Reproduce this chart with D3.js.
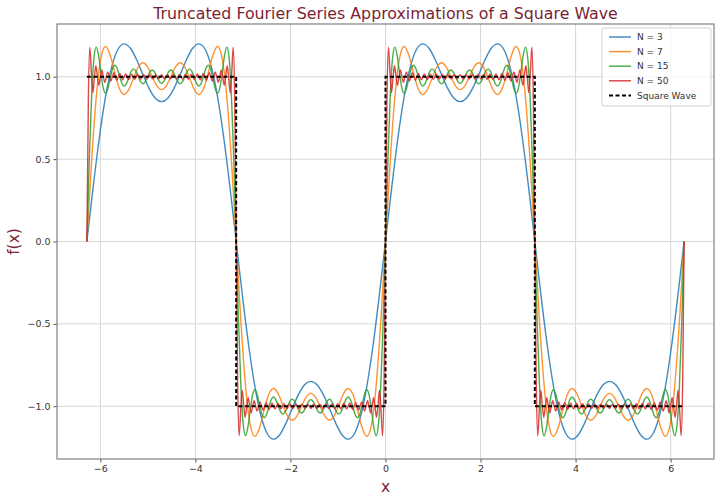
<!DOCTYPE html>
<html>
<head>
<meta charset="utf-8">
<script src="https://cdn.jsdelivr.net/npm/d3@7"></script>
<style>
  body { margin: 0; background: #fff; }
  text { font-family: "DejaVu Sans", sans-serif; }
</style>
</head>
<body>
<div id="chart"></div>
<script>
// sampled values of each truncated series, evenly spaced over [-2pi, 2pi]
const xMin = -2 * Math.PI, xMax = 2 * Math.PI;

const seriesNames = ["N = 3", "N = 7", "N = 15", "N = 50"];
const seriesColors = ["#1f77b4", "#ff7f0e", "#2ca02c", "#d62728"];

const n3 = [
  0,0.329,0.63,0.879,1.061,1.167,1.2,1.173,1.103,1.014,0.93,0.87,0.849,0.87,0.93,1.014,1.103,1.173,1.2,1.167,1.061,0.879,0.63,0.329,0,
  -0.329,-0.63,-0.879,-1.061,-1.167,-1.2,-1.173,-1.103,-1.014,-0.93,-0.87,-0.849,-0.87,-0.93,-1.014,-1.103,-1.173,-1.2,-1.167,-1.061,-0.879,-0.63,-0.329,0,
  0.329,0.63,0.879,1.061,1.167,1.2,1.173,1.103,1.014,0.93,0.87,0.849,0.87,0.93,1.014,1.103,1.173,1.2,1.167,1.061,0.879,0.63,0.329,0,
  -0.329,-0.63,-0.879,-1.061,-1.167,-1.2,-1.173,-1.103,-1.014,-0.93,-0.87,-0.849,-0.87,-0.93,-1.014,-1.103,-1.173,-1.2,-1.167,-1.061,-0.879,-0.63,-0.329,0
];

const n7 = [
  0,0.483,0.874,1.112,1.184,1.131,1.022,0.927,0.892,0.923,0.993,1.059,1.085,1.06,1.002,0.945,0.922,0.945,1.002,1.06,1.085,1.059,0.993,0.923,0.892,0.927,1.022,1.131,1.184,1.112,0.874,0.483,0,
  -0.483,-0.874,-1.112,-1.184,-1.131,-1.022,-0.927,-0.892,-0.923,-0.993,-1.059,-1.085,-1.06,-1.002,-0.945,-0.922,-0.945,-1.002,-1.06,-1.085,-1.059,-0.993,-0.923,-0.892,-0.927,-1.022,-1.131,-1.184,-1.112,-0.874,-0.483,0,
  0.483,0.874,1.112,1.184,1.131,1.022,0.927,0.892,0.923,0.993,1.059,1.085,1.06,1.002,0.945,0.922,0.945,1.002,1.06,1.085,1.059,0.993,0.923,0.892,0.927,1.022,1.131,1.184,1.112,0.874,0.483,0,
  -0.483,-0.874,-1.112,-1.184,-1.131,-1.022,-0.927,-0.892,-0.923,-0.993,-1.059,-1.085,-1.06,-1.002,-0.945,-0.922,-0.945,-1.002,-1.06,-1.085,-1.059,-0.993,-0.923,-0.892,-0.927,-1.022,-1.131,-1.184,-1.112,-0.874,-0.483,0
];

const n15 = [
  0,0.483,0.873,1.109,1.18,1.129,1.024,0.933,0.9,0.928,0.991,1.048,1.07,1.05,1.005,0.961,0.944,0.96,0.997,1.033,1.048,1.034,1.002,0.97,0.957,0.969,0.999,1.029,1.041,1.029,1,0.972,0.96,
  0.972,1,1.029,1.041,1.029,0.999,0.969,0.957,0.97,1.002,1.034,1.048,1.033,0.997,0.96,0.944,0.961,1.005,1.05,1.07,1.048,0.991,0.928,0.9,0.933,1.024,1.129,1.18,1.109,0.873,0.483,0,
  -0.483,-0.873,-1.109,-1.18,-1.129,-1.024,-0.933,-0.9,-0.928,-0.991,-1.048,-1.07,-1.05,-1.005,-0.961,-0.944,-0.96,-0.997,-1.033,-1.048,-1.034,-1.002,-0.97,-0.957,-0.969,-0.999,-1.029,-1.041,-1.029,-1,-0.972,-0.96,
  -0.972,-1,-1.029,-1.041,-1.029,-0.999,-0.969,-0.957,-0.97,-1.002,-1.034,-1.048,-1.033,-0.997,-0.96,-0.944,-0.961,-1.005,-1.05,-1.07,-1.048,-0.991,-0.928,-0.9,-0.933,-1.024,-1.129,-1.18,-1.109,-0.873,-0.483,0,
  0.483,0.873,1.109,1.18,1.129,1.024,0.933,0.9,0.928,0.991,1.048,1.07,1.05,1.005,0.961,0.944,0.96,0.997,1.033,1.048,1.034,1.002,0.97,0.957,0.969,0.999,1.029,1.041,1.029,1,0.972,0.96,
  0.972,1,1.029,1.041,1.029,0.999,0.969,0.957,0.97,1.002,1.034,1.048,1.033,0.997,0.96,0.944,0.961,1.005,1.05,1.07,1.048,0.991,0.928,0.9,0.933,1.024,1.129,1.18,1.109,0.873,0.483,0,
  -0.483,-0.873,-1.109,-1.18,-1.129,-1.024,-0.933,-0.9,-0.928,-0.991,-1.048,-1.07,-1.05,-1.005,-0.961,-0.944,-0.96,-0.997,-1.033,-1.048,-1.034,-1.002,-0.97,-0.957,-0.969,-0.999,-1.029,-1.041,-1.029,-1,-0.972,-0.96,
  -0.972,-1,-1.029,-1.041,-1.029,-0.999,-0.969,-0.957,-0.97,-1.002,-1.034,-1.048,-1.033,-0.997,-0.96,-0.944,-0.961,-1.005,-1.05,-1.07,-1.048,-0.991,-0.928,-0.9,-0.933,-1.024,-1.129,-1.18,-1.109,-0.873,-0.483,0
];

const n50 = [
  0,0.873,1.179,1.024,0.903,0.991,1.067,1.005,0.949,0.997,1.041,1.002,0.966,0.999,1.03,1.001,0.974,0.999,1.024,1.001,0.978,0.999,1.02,1,0.981,1,1.017,1,0.983,1,1.016,1,0.985,1,1.015,1,0.986,1,1.014,1,0.987,1,1.013,1,0.987,1,1.013,1,0.987,1,1.013,
  1,0.987,1,1.013,1,0.987,1,1.013,1,0.987,1,1.014,1,0.986,1,1.015,1,0.985,1,1.016,1,0.983,1,1.017,1,0.981,1,1.02,0.999,0.978,1.001,1.024,0.999,0.974,1.001,1.03,0.999,0.966,1.002,1.041,0.997,0.949,1.005,1.067,0.991,0.903,1.024,1.179,0.873,0,
  -0.873,-1.179,-1.024,-0.903,-0.991,-1.067,-1.005,-0.949,-0.997,-1.041,-1.002,-0.966,-0.999,-1.03,-1.001,-0.974,-0.999,-1.024,-1.001,-0.978,-0.999,-1.02,-1,-0.981,-1,-1.017,-1,-0.983,-1,-1.016,-1,-0.985,-1,-1.015,-1,-0.986,-1,-1.014,-1,-0.987,-1,-1.013,-1,-0.987,-1,-1.013,-1,-0.987,-1,-1.013,
  -1,-0.987,-1,-1.013,-1,-0.987,-1,-1.013,-1,-0.987,-1,-1.014,-1,-0.986,-1,-1.015,-1,-0.985,-1,-1.016,-1,-0.983,-1,-1.017,-1,-0.981,-1,-1.02,-0.999,-0.978,-1.001,-1.024,-0.999,-0.974,-1.001,-1.03,-0.999,-0.966,-1.002,-1.041,-0.997,-0.949,-1.005,-1.067,-0.991,-0.903,-1.024,-1.179,-0.873,0,
  0.873,1.179,1.024,0.903,0.991,1.067,1.005,0.949,0.997,1.041,1.002,0.966,0.999,1.03,1.001,0.974,0.999,1.024,1.001,0.978,0.999,1.02,1,0.981,1,1.017,1,0.983,1,1.016,1,0.985,1,1.015,1,0.986,1,1.014,1,0.987,1,1.013,1,0.987,1,1.013,1,0.987,1,1.013,
  1,0.987,1,1.013,1,0.987,1,1.013,1,0.987,1,1.014,1,0.986,1,1.015,1,0.985,1,1.016,1,0.983,1,1.017,1,0.981,1,1.02,0.999,0.978,1.001,1.024,0.999,0.974,1.001,1.03,0.999,0.966,1.002,1.041,0.997,0.949,1.005,1.067,0.991,0.903,1.024,1.179,0.873,0,
  -0.873,-1.179,-1.024,-0.903,-0.991,-1.067,-1.005,-0.949,-0.997,-1.041,-1.002,-0.966,-0.999,-1.03,-1.001,-0.974,-0.999,-1.024,-1.001,-0.978,-0.999,-1.02,-1,-0.981,-1,-1.017,-1,-0.983,-1,-1.016,-1,-0.985,-1,-1.015,-1,-0.986,-1,-1.014,-1,-0.987,-1,-1.013,-1,-0.987,-1,-1.013,-1,-0.987,-1,-1.013,
  -1,-0.987,-1,-1.013,-1,-0.987,-1,-1.013,-1,-0.987,-1,-1.014,-1,-0.986,-1,-1.015,-1,-0.985,-1,-1.016,-1,-0.983,-1,-1.017,-1,-0.981,-1,-1.02,-0.999,-0.978,-1.001,-1.024,-0.999,-0.974,-1.001,-1.03,-0.999,-0.966,-1.002,-1.041,-0.997,-0.949,-1.005,-1.067,-0.991,-0.903,-1.024,-1.179,-0.873,0
];

// square wave corners
const squareX = [-6.283, -3.142, -3.142, 0, 0, 3.142, 3.142, 6.283];
const squareY = [1, 1, -1, -1, 1, 1, -1, -1];

const xTicks = [-6, -4, -2, 0, 2, 4, 6];
const yTicks = [-1, -0.5, 0, 0.5, 1];

const width = 720, height = 501;
const margin = {top: 24, right: 6, bottom: 42, left: 57};
const titleColor = "#7b1f33";

let svg = d3.select("#chart").append("svg").attr("width", width).attr("height", height);
svg.append("rect").attr("width", width).attr("height", height).attr("fill", "#fff");

var x = d3.scaleLinear()
    .domain([-6.912, 6.912])
    .range([margin.left, width - margin.right]);
var y = d3.scaleLinear()
    .domain([-1.3204, 1.3204])
    .range([height - margin.bottom, margin.top]);

// grid
svg.append("g").selectAll("line").data(xTicks).enter().append("line")
    .attr("x1", d => x(d)).attr("x2", d => x(d))
    .attr("y1", margin.top).attr("y2", height - margin.bottom)
    .attr("stroke", "#d6d6d6").attr("stroke-width", 1);
svg.append("g").selectAll("line").data(yTicks).enter().append("line")
    .attr("x1", margin.left).attr("x2", width - margin.right)
    .attr("y1", d => y(d)).attr("y2", d => y(d))
    .attr("stroke", "#d6d6d6").attr("stroke-width", 1);

svg.append("clipPath").attr("id", "plot-clip").append("rect")
    .attr("x", margin.left).attr("y", margin.top)
    .attr("width", width - margin.left - margin.right)
    .attr("height", height - margin.top - margin.bottom);

let plot = svg.append("g").attr("clip-path", "url(#plot-clip)");

const allSeries = [n3, n7, n15, n50];
allSeries.forEach((vals, i) => {
    let idx = d3.scaleLinear().domain([0, vals.length - 1]).range([xMin, xMax]);
    let line = d3.line()
        .x((d, j) => x(idx(j)))
        .y(d => y(d))
        .curve(d3.curveMonotoneX);
    plot.append("path")
        .datum(vals)
        .attr("fill", "none")
        .attr("stroke", seriesColors[i])
        .attr("stroke-width", 1.4)
        .attr("stroke-opacity", 0.85)
        .attr("stroke-linejoin", "round")
        .attr("d", line);
});

let squareLine = d3.line().x((d, i) => x(squareX[i])).y(d => y(d));
plot.append("path")
    .datum(squareY)
    .attr("fill", "none")
    .attr("stroke", "#000")
    .attr("stroke-width", 2)
    .attr("stroke-dasharray", "4,2.5")
    .attr("d", squareLine);

// axes
const fmtY = d => d3.format(".1f")(d).replace("-", "\u2212");
const fmtX = d => String(d).replace("-", "\u2212");

let xAxis = svg.append("g")
    .attr("transform", "translate(0," + (height - margin.bottom) + ")")
    .call(d3.axisBottom(x).tickValues(xTicks).tickFormat(fmtX).tickSize(3.5).tickPadding(3));
let yAxis = svg.append("g")
    .attr("transform", "translate(" + margin.left + ",0)")
    .call(d3.axisLeft(y).tickValues(yTicks).tickFormat(fmtY).tickSize(3.5).tickPadding(3));
[xAxis, yAxis].forEach(a => {
    a.select(".domain").remove();
    a.selectAll(".tick line").attr("stroke", "#555");
    a.selectAll(".tick text").attr("fill", "#333").style("font-size", "9.5px")
        .style("font-family", "DejaVu Sans, sans-serif");
});

svg.append("rect")
    .attr("x", margin.left).attr("y", margin.top)
    .attr("width", width - margin.left - margin.right)
    .attr("height", height - margin.top - margin.bottom)
    .attr("fill", "none").attr("stroke", "#808080").attr("stroke-width", 1.2);

// titles
svg.append("text")
    .attr("x", (margin.left + width - margin.right) / 2).attr("y", 19)
    .attr("text-anchor", "middle")
    .attr("fill", titleColor)
    .style("font-size", "15.8px")
    .text("Truncated Fourier Series Approximations of a Square Wave");
svg.append("text")
    .attr("x", (margin.left + width - margin.right) / 2).attr("y", 492)
    .attr("text-anchor", "middle")
    .attr("fill", titleColor)
    .style("font-size", "15.5px")
    .text("x");
svg.append("text")
    .attr("transform", "translate(19," + y(0) + ") rotate(-90)")
    .attr("text-anchor", "middle")
    .attr("fill", titleColor)
    .style("font-size", "15.5px")
    .text("f(x)");

// legend
const legendNames = seriesNames.concat(["Square Wave"]);
const legendColors = seriesColors.concat(["#000"]);
let legend = svg.append("g").attr("transform", "translate(602,28)");
legend.append("rect")
    .attr("width", 109).attr("height", 78).attr("rx", 2)
    .attr("fill", "#fff").attr("fill-opacity", 0.8)
    .attr("stroke", "#d0d0d0");
legendNames.forEach((name, i) => {
    let row = legend.append("g").attr("transform", "translate(0," + (9 + i * 14.6) + ")");
    row.append("line")
        .attr("x1", 7).attr("x2", 29)
        .attr("stroke", legendColors[i])
        .attr("stroke-width", i == 4 ? 2 : 1.5)
        .attr("stroke-opacity", i == 4 ? 1 : 0.85)
        .attr("stroke-dasharray", i == 4 ? "4,2.5" : null);
    row.append("text")
        .attr("x", 35).attr("dy", "0.35em")
        .attr("fill", "#333")
        .style("font-size", "9px")
        .text(name);
});
</script>
</body>
</html>
